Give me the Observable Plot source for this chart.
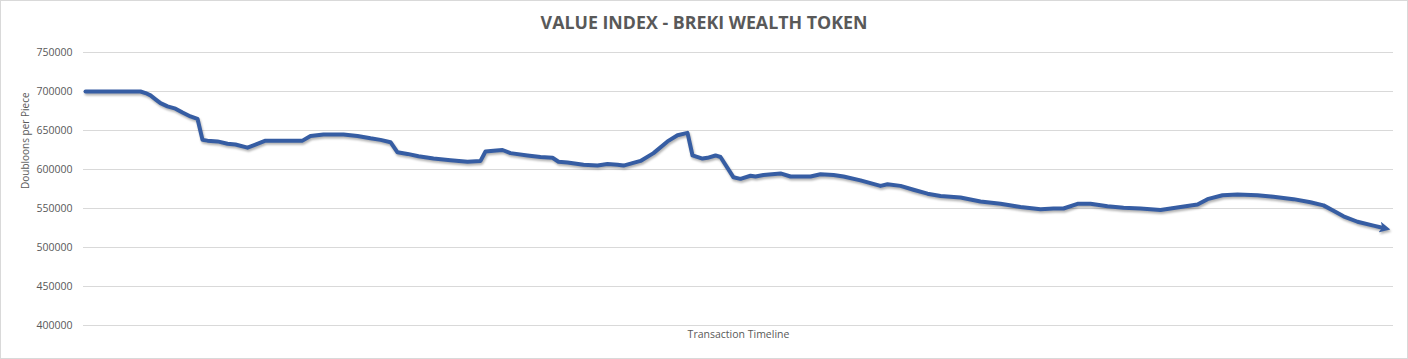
<!DOCTYPE html>
<html>
<head>
<meta charset="utf-8">
<script src="https://cdn.jsdelivr.net/npm/d3@7"></script>
<script src="https://cdn.jsdelivr.net/npm/@observablehq/plot@0.6"></script>
<style>
  html, body { margin: 0; padding: 0; background: #fff; }
  #wrap { position: relative; width: 1408px; height: 359px; overflow: hidden; background: #fff; }
  #frame { position: absolute; left: 0; top: 0; width: 1408px; height: 359px; box-sizing: border-box; border: 1px solid #d9d9d9; pointer-events: none; }
  #title { position: absolute; left: 0; top: 0; width: 1408px; height: 40px; line-height: 45px; text-align: center;
           font-family: "Open Sans", sans-serif; font-weight: 700; font-size: 17.8px; color: #595959; }
  #chart { position: absolute; left: 0; top: 40px; }
</style>
</head>
<body>
<div id="wrap">
  <div id="title">VALUE INDEX - BREKI WEALTH TOKEN</div>
  <div id="chart"></div>
  <div id="frame"></div>
</div>
<script>
const title = "VALUE INDEX - BREKI WEALTH TOKEN";
const yLabel = "Doubloons per Piece";
const xLabel = "Transaction Timeline";
const yTicks = [400000, 450000, 500000, 550000, 600000, 650000, 700000, 750000];

const steps = [0,55,60,65,70,75,82,90,97,105,112,117,122,132,142,150,162,168,180,217,
  225,238,258,272,285,295,305,312,322,333,348,365,382,395,400,408,417,425,442,455,
  467,473,482,498,512,522,532,538,555,568,582,592,602,607,617,622,630,635,648,655,
  665,670,678,695,705,725,735,748,758,775,795,802,815,828,842,855,875,895,915,935,
  955,968,978,992,1005,1022,1038,1055,1075,1095,1112,1122,1137,1152,1172,1188,1208,1225,1238,1248,
  1258,1272,1288,1298];

const values = [700000,700000,698000,695000,690000,685000,681000,678000,673000,668000,665000,638000,637000,636000,633000,632000,628000,631000,637000,637000,
  643000,645000,645000,643000,640000,638000,635000,622000,620000,617000,614000,612000,610000,611000,623000,624000,625000,621000,618000,616000,
  615000,610000,609000,606000,605000,607000,606000,605000,611000,621000,636000,644000,647000,618000,614000,615000,618000,616000,590000,588000,
  592000,591000,593000,595000,591000,591000,594000,593000,591000,586000,579000,581000,579000,574000,569000,566000,564000,559000,556000,552000,
  549000,550000,550000,556000,556000,553000,551000,550000,548000,552000,555000,562000,567000,568000,567000,565000,562000,558000,554000,547000,
  540000,533000,528000,525000];

const data = steps.map((s, i) => ({step: s, value: values[i]}));
const lineColor = "#365DA3";

const chart = Plot.plot({
  width: 1408,
  height: 318,
  marginLeft: 83,
  marginRight: 15,
  marginTop: 12,
  marginBottom: 33,
  style: {fontFamily: "'Open Sans', sans-serif", fontSize: "10.5px", color: "#595959", background: "transparent"},
  x: {domain: [-2, 1308], axis: null},
  y: {domain: [400000, 750000], ticks: yTicks, tickFormat: d => String(d), tickSize: 0, tickPadding: 11, label: null},
  marks: [
    Plot.gridY(yTicks, {stroke: "#d9d9d9", strokeOpacity: 1, strokeWidth: 1}),
    Plot.axisY(yTicks, {tickSize: 0, tickPadding: 11, tickFormat: d => String(d), fill: "#595959", label: null}),
    Plot.line(data, {x: "step", y: "value", stroke: lineColor, strokeWidth: 4, strokeLinejoin: "round", strokeLinecap: "round"}),
    Plot.text([yLabel], {frameAnchor: "left", rotate: -90, dx: -58, fill: "#595959", fontSize: 10}),
    Plot.text([xLabel], {frameAnchor: "bottom", dy: 12, fill: "#595959", fontSize: 10.5})
  ]
});

// custom filled arrowhead at line end + soft shadow
const ns = "http://www.w3.org/2000/svg";
const defs = document.createElementNS(ns, "defs");
const marker = document.createElementNS(ns, "marker");
marker.setAttribute("id", "arrowEnd");
marker.setAttribute("viewBox", "0 0 10 10");
marker.setAttribute("refX", "3.6");
marker.setAttribute("refY", "5");
marker.setAttribute("markerUnits", "userSpaceOnUse");
marker.setAttribute("markerWidth", "11");
marker.setAttribute("markerHeight", "11");
marker.setAttribute("orient", "auto");
const tri = document.createElementNS(ns, "path");
tri.setAttribute("d", "M0,0L10,5L0,10L2.5,5z");
tri.setAttribute("fill", lineColor);
marker.appendChild(tri);
defs.appendChild(marker);
chart.insertBefore(defs, chart.firstChild);
const linePath = chart.querySelector("g[aria-label='line'] path");
if (linePath) {
  linePath.setAttribute("marker-end", "url(#arrowEnd)");
  linePath.style.filter = "drop-shadow(1px 2px 1.2px rgba(0,0,0,0.3))";
}
document.getElementById("chart").appendChild(chart);
</script>
</body>
</html>
